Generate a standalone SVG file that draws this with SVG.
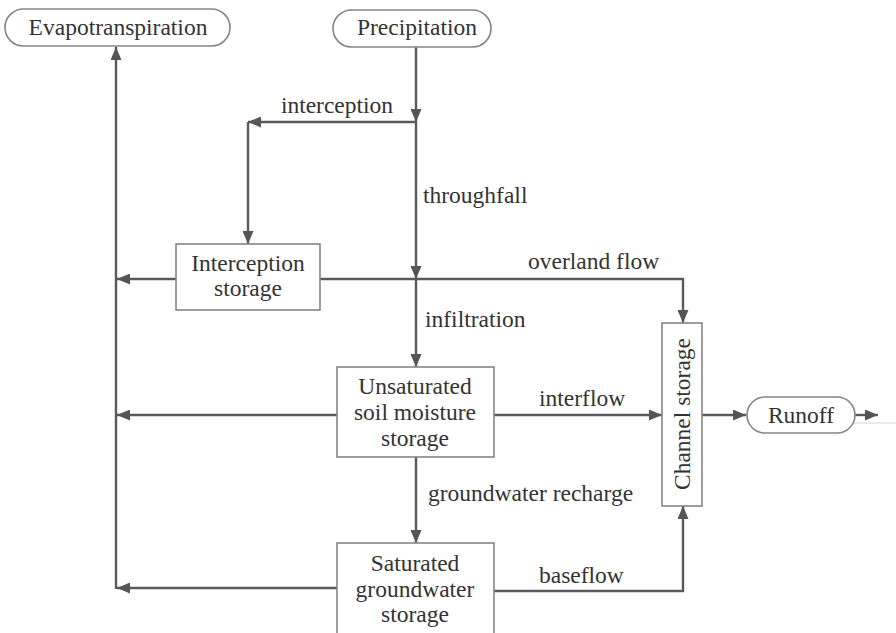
<svg xmlns="http://www.w3.org/2000/svg" width="896" height="633" viewBox="0 0 896 633">
<defs>
<marker id="ah" viewBox="0 0 13 11" refX="13" refY="5.5" markerWidth="13" markerHeight="11" markerUnits="userSpaceOnUse" orient="auto">
<path d="M0,0 L13,5.5 L0,11 z" fill="#555"/>
</marker>
<style>
text{font-size:23.5px;fill:#333}
.c{text-anchor:middle}
.box{fill:#fff;stroke:#858585;stroke-width:1.6}
.ar{fill:none;stroke:#5a5a5a;stroke-width:2.4;marker-end:url(#ah)}
</style>
</defs>
<rect width="896" height="633" fill="#fff"/>
<g font-family="Liberation Serif">
<g id="connectors">
<path class="ar" d="M416,47 V122"/>
<path class="ar" d="M416,122 H248"/>
<path class="ar" d="M248,122 V244"/>
<path class="ar" d="M416,122 V279"/>
<path class="ar" d="M416,279 V367"/>
<path class="ar" d="M320,279 H683 V323"/>
<path class="ar" d="M176,279 H117"/>
<path class="ar" d="M337,415 H117"/>
<path class="ar" d="M337,588 H117"/>
<path class="ar" d="M116,589 V47"/>
<path class="ar" d="M494,415 H662"/>
<path class="ar" d="M416,457 V543"/>
<path class="ar" d="M494,591 H683 V506"/>
<path class="ar" d="M702,415 H746"/>
<path class="ar" d="M855,415 H878"/>
<path d="M853,423 H896" stroke="#d4d4d4" stroke-width="1" fill="none"/>
<text x="337" y="113" class="c" font-family="Liberation Serif">interception</text>
<text x="423" y="203" font-family="Liberation Serif">throughfall</text>
<text x="528" y="269" font-family="Liberation Serif">overland flow</text>
<text x="425" y="327" font-family="Liberation Serif">infiltration</text>
<text x="539" y="406" font-family="Liberation Serif">interflow</text>
<text x="428" y="501" font-family="Liberation Serif">groundwater recharge</text>
<text x="539" y="583" font-family="Liberation Serif">baseflow</text>
</g>
<g id="evapotranspiration">
<rect class="box" x="5" y="9" width="225" height="37" rx="18.5"/>
<text x="118" y="35" class="c" font-family="Liberation Serif">Evapotranspiration</text>
</g>
<g id="precipitation">
<rect class="box" x="333" y="10" width="158" height="37" rx="18.5"/>
<text x="417" y="35" class="c" font-family="Liberation Serif">Precipitation</text>
</g>
<g id="interception-storage">
<rect class="box" x="176" y="244" width="144" height="66"/>
<text x="248" y="271" class="c" font-family="Liberation Serif">Interception</text>
<text x="248" y="296" class="c" font-family="Liberation Serif">storage</text>
</g>
<g id="unsaturated-storage">
<rect class="box" x="337" y="367" width="157" height="90"/>
<text x="415" y="394" class="c" font-family="Liberation Serif">Unsaturated</text>
<text x="415" y="420" class="c" font-family="Liberation Serif">soil moisture</text>
<text x="415" y="446" class="c" font-family="Liberation Serif">storage</text>
</g>
<g id="saturated-storage">
<rect class="box" x="337" y="543" width="157" height="100"/>
<text x="415" y="571" class="c" font-family="Liberation Serif">Saturated</text>
<text x="415" y="597" class="c" font-family="Liberation Serif">groundwater</text>
<text x="415" y="622" class="c" font-family="Liberation Serif">storage</text>
</g>
<g id="channel-storage">
<rect class="box" x="662" y="323" width="40" height="183"/>
<text transform="translate(690,414) rotate(-90)" class="c" font-family="Liberation Serif">Channel storage</text>
</g>
<g id="runoff">
<rect class="box" x="747" y="397" width="108" height="36" rx="18"/>
<text x="801" y="423" class="c" font-family="Liberation Serif">Runoff</text>
</g>
</g>
</svg>
